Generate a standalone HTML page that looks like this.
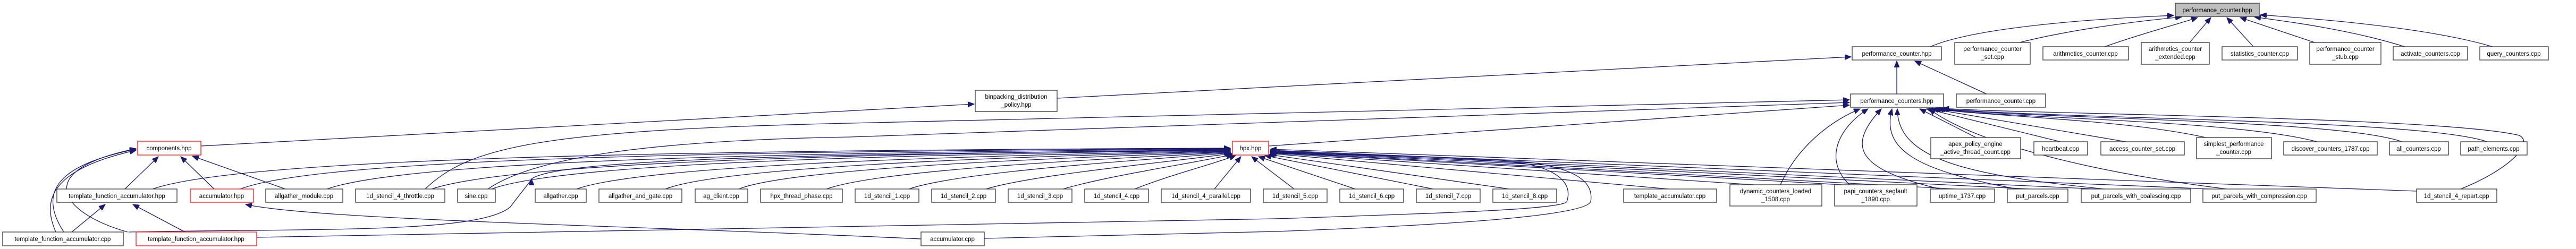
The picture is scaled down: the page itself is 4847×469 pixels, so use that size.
<!DOCTYPE html>
<html><head><meta charset="utf-8"><style>
html,body{margin:0;padding:0;background:#fff}
svg{display:block}
text{font-family:"Liberation Sans",sans-serif;font-size:11.5px;fill:#000;text-anchor:middle}
.b{fill:#fff;stroke:#404040;stroke-width:1.4}
.r{fill:#fff;stroke:#ff2020;stroke-width:1.4}
.g{fill:#bfbfbf;stroke:#404040;stroke-width:1.4}
.e{fill:none;stroke:#191970;stroke-width:1.3}
</style></head><body>
<svg width="4847" height="469" viewBox="0 0 4847 469" xmlns="http://www.w3.org/2000/svg">
<defs><marker id="a" markerUnits="userSpaceOnUse" markerWidth="13" markerHeight="10" refX="12" refY="5" orient="auto"><path d="M0,0 L12,5 L0,10 z" fill="#191970" stroke="#191970"/></marker></defs>
<g marker-end="url(#a)">
<!-- to top performance_counter.hpp -->
<path class="e" d="M3632,88 C3720,50 3950,35 4090,29"/>
<path class="e" d="M3800,80 C3900,55 4020,40 4105,32"/>
<path class="e" d="M3960,88 C4040,60 4100,45 4135,33"/>
<path class="e" d="M4120,80 L4160,33"/>
<path class="e" d="M4240,88 L4190,33"/>
<path class="e" d="M4355,80 L4215,33"/>
<path class="e" d="M4525,88 C4420,55 4300,40 4242,32"/>
<path class="e" d="M4690,88 C4580,55 4400,38 4253,28"/>
<!-- to performance_counter.hpp -->
<path class="e" d="M1989,185 L3483,107"/>
<path class="e" d="M3569,177 L3569,115"/>
<path class="e" d="M3738,177 L3603,115"/>
<!-- to binpacking -->
<path class="e" d="M378,275 L1833,196"/>
<!-- to performance_counters.hpp -->
<path class="e" d="M2387,275 L3480,198"/>
<path class="e" d="M800,356 C880,280 1000,245 1600,232 L3480,188"/>
<path class="e" d="M918,356 C1000,300 1200,265 1600,258 L3480,193"/>
<path class="e" d="M3718,259 L3612,205"/>
<path class="e" d="M3877,267 L3625,205"/>
<path class="e" d="M4000,267 L3635,205"/>
<path class="e" d="M4150,259 C4000,225 3750,220 3640,205"/>
<path class="e" d="M4360,267 C4200,225 3800,225 3645,205"/>
<path class="e" d="M4520,267 C4400,225 3850,225 3648,205"/>
<path class="e" d="M4680,267 C4560,225 3900,225 3652,205"/>
<path class="e" d="M4630,356 C4720,320 4770,270 4740,255 C4600,220 3800,215 3655,204"/>
<path class="e" d="M3350,348 C3380,280 3440,230 3500,205"/>
<path class="e" d="M3480,348 C3430,300 3460,240 3515,205"/>
<path class="e" d="M3650,356 C3500,320 3470,280 3540,205"/>
<path class="e" d="M3795,356 C3600,320 3540,280 3560,205"/>
<path class="e" d="M3960,356 C3700,330 3570,300 3570,205"/>
<path class="e" d="M4190,356 C3900,320 3700,260 3630,205"/>
<!-- to hpx.hpp from left -->
<path class="e" d="M287,356 C450,300 1200,283 2315,279"/>
<path class="e" d="M452,356 C600,300 1300,285 2315,280"/>
<path class="e" d="M615,356 C760,305 1400,287 2315,281"/>
<path class="e" d="M812,356 C950,310 1500,290 2315,282"/>
<path class="e" d="M925,356 C1050,310 1600,292 2315,283"/>
<path class="e" d="M1085,356 C1200,315 1700,295 2315,284"/>
<path class="e" d="M1252,356 C1350,318 1800,297 2315,285"/>
<path class="e" d="M1390,356 C1480,320 1900,300 2315,286"/>
<path class="e" d="M1555,356 C1650,322 2000,303 2315,287"/>
<path class="e" d="M1710,356 C1800,325 2100,305 2316,288"/>
<path class="e" d="M1855,356 C1950,328 2180,308 2318,289"/>
<path class="e" d="M2000,356 C2090,330 2230,310 2320,291"/>
<path class="e" d="M2135,356 C2200,330 2280,310 2325,293"/>
<path class="e" d="M2285,356 L2335,295"/>
<path class="e" d="M2435,356 L2355,295"/>
<path class="e" d="M2550,356 L2368,295"/>
<path class="e" d="M2697,356 L2380,293"/>
<path class="e" d="M2840,356 L2387,291"/>
<path class="e" d="M1000,337 C1050,300 1500,290 2315,283"/>
<path class="e" d="M242,437 C600,430 900,440 960,390 C990,350 1000,340 1000,337"/>
<!-- to hpx from right -->
<path class="e" d="M3140,356 L2390,289"/>
<path class="e" d="M3300,348 L2390,288"/>
<path class="e" d="M3465,348 L2390,287"/>
<path class="e" d="M3680,356 L2390,286"/>
<path class="e" d="M3820,356 L2390,285"/>
<path class="e" d="M3945,356 L2390,284"/>
<path class="e" d="M4160,356 L2390,283"/>
<path class="e" d="M4547,360 L2390,281"/>
<path class="e" d="M483,447 L2400,412 C2700,402 2935,395 2948,380 C2960,345 2930,320 2870,308 C2700,292 2450,288 2390,287"/>
<path class="e" d="M1852,449 L2400,436 C2700,425 2980,408 2993,380 C3000,340 2960,318 2880,306 C2700,292 2450,290 2390,289"/>
<!-- to components.hpp -->
<path class="e" d="M235,356 L298,295"/>
<path class="e" d="M403,356 L340,295"/>
<path class="e" d="M537,356 L362,294"/>
<path class="e" d="M105,437 C80,380 90,320 256,283"/>
<path class="e" d="M240,437 C110,400 60,320 256,280"/>
<path class="e" d="M120,437 C70,360 110,310 256,281"/>
<!-- to template_function_accumulator.hpp -->
<path class="e" d="M135,437 L198,385"/>
<path class="e" d="M348,437 L250,385"/>
<!-- to accumulator.hpp -->
<path class="e" d="M1733,450 C1200,425 600,415 462,385"/>
</g>
<!-- nodes -->
<rect class="g" x="4093" y="6" width="158" height="25"/><text x="4172" y="23">performance_counter.hpp</text>
<rect class="b" x="3485" y="88" width="168" height="25"/><text x="3569" y="105">performance_counter.hpp</text>
<rect class="b" x="3678" y="80" width="142" height="41"/><text x="3749" y="96">performance_counter</text><text x="3749" y="111">_set.cpp</text>
<rect class="b" x="3844" y="88" width="161" height="25"/><text x="3924" y="105">arithmetics_counter.cpp</text>
<rect class="b" x="4029" y="80" width="128" height="41"/><text x="4093" y="96">arithmetics_counter</text><text x="4093" y="111">_extended.cpp</text>
<rect class="b" x="4181" y="88" width="142" height="25"/><text x="4252" y="105">statistics_counter.cpp</text>
<rect class="b" x="4346" y="80" width="134" height="41"/><text x="4413" y="96">performance_counter</text><text x="4413" y="111">_stub.cpp</text>
<rect class="b" x="4503" y="88" width="140" height="25"/><text x="4573" y="105">activate_counters.cpp</text>
<rect class="b" x="4666" y="88" width="129" height="25"/><text x="4730" y="105">query_counters.cpp</text>
<rect class="b" x="1835" y="170" width="154" height="40"/><text x="1912" y="186">binpacking_distribution</text><text x="1912" y="201">_policy.hpp</text>
<rect class="b" x="3482" y="177" width="175" height="25"/><text x="3569" y="194">performance_counters.hpp</text>
<rect class="b" x="3681" y="177" width="168" height="25"/><text x="3765" y="194">performance_counter.cpp</text>
<rect class="r" x="259" y="266" width="119" height="26"/><text x="318" y="283">components.hpp</text>
<rect class="r" x="2319" y="266" width="68" height="26"/><text x="2353" y="283">hpx.hpp</text>
<rect class="b" x="3633" y="259" width="169" height="40"/><text x="3717" y="275">apex_policy_engine</text><text x="3717" y="290">_active_thread_count.cpp</text>
<rect class="b" x="3827" y="267" width="101" height="25"/><text x="3877" y="284">heartbeat.cpp</text>
<rect class="b" x="3953" y="267" width="157" height="25"/><text x="4031" y="284">access_counter_set.cpp</text>
<rect class="b" x="4133" y="259" width="141" height="40"/><text x="4203" y="275">simplest_performance</text><text x="4203" y="290">_counter.cpp</text>
<rect class="b" x="4297" y="267" width="176" height="25"/><text x="4385" y="284">discover_counters_1787.cpp</text>
<rect class="b" x="4496" y="267" width="111" height="25"/><text x="4551" y="284">all_counters.cpp</text>
<rect class="b" x="4630" y="267" width="125" height="25"/><text x="4692" y="284">path_elements.cpp</text>
<rect class="b" x="107" y="356" width="226" height="25"/><text x="220" y="373">template_function_accumulator.hpp</text>
<rect class="r" x="358" y="356" width="119" height="25"/><text x="417" y="373">accumulator.hpp</text>
<rect class="b" x="500" y="356" width="145" height="25"/><text x="572" y="373">allgather_module.cpp</text>
<rect class="b" x="669" y="356" width="168" height="25"/><text x="753" y="373">1d_stencil_4_throttle.cpp</text>
<rect class="b" x="861" y="356" width="71" height="25"/><text x="896" y="373">sine.cpp</text>
<rect class="b" x="1007" y="356" width="96" height="25"/><text x="1055" y="373">allgather.cpp</text>
<rect class="b" x="1127" y="356" width="156" height="25"/><text x="1205" y="373">allgather_and_gate.cpp</text>
<rect class="b" x="1308" y="356" width="99" height="25"/><text x="1357" y="373">ag_client.cpp</text>
<rect class="b" x="1431" y="356" width="154" height="25"/><text x="1508" y="373">hpx_thread_phase.cpp</text>
<rect class="b" x="1609" y="356" width="120" height="25"/><text x="1669" y="373">1d_stencil_1.cpp</text>
<rect class="b" x="1753" y="356" width="120" height="25"/><text x="1813" y="373">1d_stencil_2.cpp</text>
<rect class="b" x="1897" y="356" width="120" height="25"/><text x="1957" y="373">1d_stencil_3.cpp</text>
<rect class="b" x="2041" y="356" width="120" height="25"/><text x="2101" y="373">1d_stencil_4.cpp</text>
<rect class="b" x="2185" y="356" width="168" height="25"/><text x="2269" y="373">1d_stencil_4_parallel.cpp</text>
<rect class="b" x="2377" y="356" width="120" height="25"/><text x="2437" y="373">1d_stencil_5.cpp</text>
<rect class="b" x="2521" y="356" width="120" height="25"/><text x="2581" y="373">1d_stencil_6.cpp</text>
<rect class="b" x="2665" y="356" width="120" height="25"/><text x="2725" y="373">1d_stencil_7.cpp</text>
<rect class="b" x="2809" y="356" width="120" height="25"/><text x="2869" y="373">1d_stencil_8.cpp</text>
<rect class="b" x="3055" y="356" width="175" height="25"/><text x="3142" y="373">template_accumulator.cpp</text>
<rect class="b" x="3255" y="348" width="173" height="40"/><text x="3341" y="364">dynamic_counters_loaded</text><text x="3341" y="379">_1508.cpp</text>
<rect class="b" x="3452" y="348" width="155" height="40"/><text x="3529" y="364">papi_counters_segfault</text><text x="3529" y="379">_1890.cpp</text>
<rect class="b" x="3632" y="356" width="121" height="25"/><text x="3692" y="373">uptime_1737.cpp</text>
<rect class="b" x="3777" y="356" width="114" height="25"/><text x="3834" y="373">put_parcels.cpp</text>
<rect class="b" x="3916" y="356" width="206" height="25"/><text x="4019" y="373">put_parcels_with_coalescing.cpp</text>
<rect class="b" x="4145" y="356" width="213" height="25"/><text x="4251" y="373">put_parcels_with_compression.cpp</text>
<rect class="b" x="4547" y="356" width="151" height="25"/><text x="4622" y="373">1d_stencil_4_repart.cpp</text>
<rect class="b" x="5" y="437" width="227" height="26"/><text x="118" y="454">template_function_accumulator.cpp</text>
<rect class="r" x="256" y="437" width="227" height="26"/><text x="369" y="454">template_function_accumulator.hpp</text>
<rect class="b" x="1733" y="437" width="119" height="26"/><text x="1792" y="454">accumulator.cpp</text>
</svg>
</body></html>
